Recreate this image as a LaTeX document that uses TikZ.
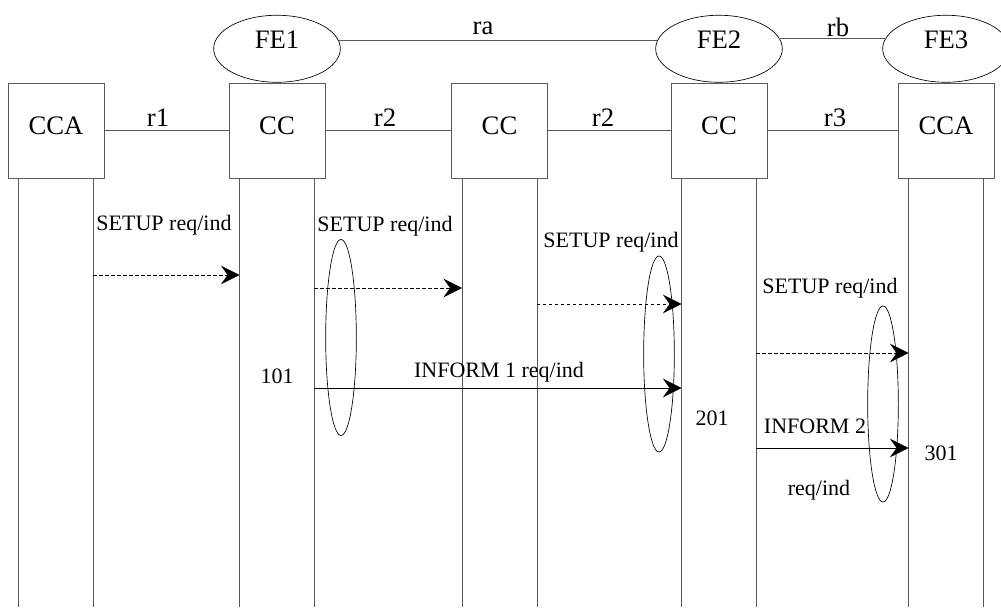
\documentclass[tikz,border=0pt]{standalone}
\usepackage{fontspec}
\setmainfont{Liberation Serif}
\usetikzlibrary{arrows.meta}
\usetikzlibrary{positioning}
\usetikzlibrary{shapes.geometric}
\usetikzlibrary{calc}
\tikzset {
  % interface and life lines
  struct line/.style = {
    draw = black!65,
    line width = 0.6pt
  },
  lifeline/.style = {
    struct line
  },
  % message path with a filled tip
  msg/.style = {
    draw = black,
    line width = 0.6pt,
    -{Stealth[length=14pt,width=14pt,inset=5pt]}
  },
  % dashed message path
  dmsg/.style = {
    msg,
    dash pattern = on 2.5pt off 2pt
  }
}
\tikzset {
  % functional entity box
  entity/.style = {
    draw = black!65,
    line width = 0.6pt,
    rectangle,
    minimum width = 72pt,
    minimum height = 71.25pt,
    inner sep = 0,
    font = \fontsize{20}{24}\selectfont,
    text height = 13.6pt,
    text depth = 6.85pt
  },
  % functional entity name
  fe/.style = {
    draw = black,
    ellipse,
    line width = 0.5pt,
    minimum width = 95pt,
    minimum height = 50.25pt,
    inner sep = 0,
    font = \fontsize{20}{24}\selectfont,
    text height = 14pt,
    text depth = 14pt
  },
  % ellipse around a pair of messages
  callgroup/.style = {
    draw = black,
    ellipse,
    line width = 0.5pt,
    minimum width = 23pt,
    minimum height = 147pt,
    inner sep = 0
  },
  ilabel/.style = {
    anchor = base,
    inner sep = 0,
    font = \fontsize{20}{24}\selectfont
  },
  mlabel/.style = {
    anchor = base,
    inner sep = 0,
    font = \fontsize{16.5}{20}\selectfont
  }
}
\begin{document}
\begin{tikzpicture}[x = 0.75pt, y = -0.75pt]
    \useasboundingbox (0,0) rectangle (1001,610);

    \node[entity] (cca1) at (56,130.5) {CCA};
    \node[entity] (cc1) at (277,130.5) {CC};
    \node[entity] (cc2) at (499.5,130.5) {CC};
    \node[entity] (cc3) at (719,130.5) {CC};
    \node[entity] (cca2) at (946,130.5) {CCA};

    \node[fe] (fe1) [above=0pt of cc1] {FE1};
    \node[fe] (fe2) [above=0pt of cc3] {FE2};
    \node[fe] (fe3) [above=0pt of cca2] {FE3};

    \draw[struct line] (cca1) -- (cc1);
    \draw[struct line] (cc1) -- (cc2);
    \draw[struct line] (cc2) -- (cc3);
    \draw[struct line] (cc3) -- (cca2);
    \draw[struct line] (fe1.8) -- (fe2.172);
    \draw[struct line] (fe2.10) -- (fe3.170);

    \node[ilabel] (r1) at (158,127) {r1};
    \node[ilabel] (r2a) at (385,127) {r2};
    \node[ilabel] (r2b) at (603,127) {r2};
    \node[ilabel] (r3) at (835,127) {r3};
    \node[ilabel] (ra) at (483,35) {ra};
    \node[ilabel] (rb) at (838,37) {rb};

    \foreach \b in {cca1,cc1,cc2,cc3,cca2} {
      \coordinate (\b-a) at ($(\b.south west) + (11,0)$);
      \coordinate (\b-b) at ($(\b.south east) + (-11,0)$);
      \draw[lifeline] (\b-a) -- ++(0,429);
      \draw[lifeline] (\b-b) -- ++(0,429);
    }

    \node[callgroup] (grp1) at (341,337.5) {};
    \node[callgroup] (grp2) at (659,354) {};
    \node[callgroup] (grp3) at (883,404) {};

    \draw[dmsg] (cca1-b |- 0,275) -- (cc1-a |- 0,275);
    \draw[dmsg] (cc1-b |- 0,288) -- (cc2-a |- 0,288);
    \draw[dmsg] (cc2-b |- 0,304) -- (cc3-a |- 0,304);
    \draw[msg] (cc1-b |- 0,388) -- (cc3-a |- 0,388);
    \draw[dmsg] (cc3-b |- 0,353) -- (cca2-a |- 0,353);
    \draw[msg] (cc3-b |- 0,448) -- (cca2-a |- 0,448);

    \node[mlabel] (setup1) at (164,230) {SETUP req/ind};
    \node[mlabel] (setup2) at (385,231) {SETUP req/ind};
    \node[mlabel] (setup3) at (611,247.5) {SETUP req/ind};
    \node[mlabel] (setup4) at (830,293) {SETUP req/ind};
    \node[mlabel] (inform1) at (499,377) {INFORM 1 req/ind};
    \node[mlabel] (inform2) at (815,433) {INFORM 2};
    \node[mlabel] (inform2b) at (819,495) {req/ind};
    \node[mlabel] (n101) at (277,383) {101};
    \node[mlabel] (n201) at (712,425) {201};
    \node[mlabel] (n301) at (941,460) {301};
  \end{tikzpicture}
\end{document}
